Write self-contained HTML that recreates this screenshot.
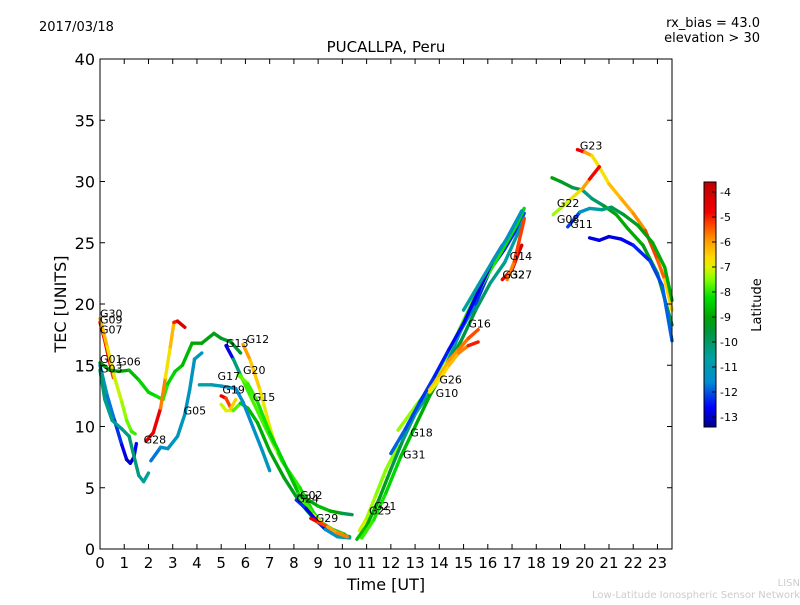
<!DOCTYPE html>
<html><head><meta charset="utf-8"><style>
body{margin:0;background:#fff;}
svg text{font-family:"DejaVu Sans","Liberation Sans",sans-serif;}
</style></head><body>
<svg id="chart" width="800" height="600" viewBox="0 0 800 600" xmlns="http://www.w3.org/2000/svg">
<rect width="800" height="600" fill="#fff"/>
<text x="39" y="31" font-size="13">2017/03/18</text>
<text x="386" y="52" font-size="15" text-anchor="middle">PUCALLPA, Peru</text>
<text x="760" y="27" font-size="13" text-anchor="end">rx_bias = 43.0</text>
<text x="760" y="42" font-size="13" text-anchor="end">elevation &gt; 30</text>
<text x="0" y="0" font-size="16" text-anchor="middle" transform="translate(66,304) rotate(-90)">TEC [UNITS]</text>
<text x="386" y="590" font-size="16" text-anchor="middle">Time [UT]</text>
<text x="0" y="0" font-size="13" text-anchor="middle" transform="translate(761,305) rotate(-90)">Latitude</text>
<text x="800" y="586" font-size="10" fill="#ccc" text-anchor="end">LISN</text>
<text x="800" y="598" font-size="10" fill="#ccc" text-anchor="end">Low-Latitude Ionospheric Sensor Network</text>
<g id="marks"></g>
<g id="axes"></g>
<defs><linearGradient id="cbgrad" x1="0" y1="1" x2="0" y2="0"></linearGradient></defs>
</svg>
<script>
const xTicks=[0,1,2,3,4,5,6,7,8,9,10,11,12,13,14,15,16,17,18,19,20,21,22,23];
const yTicks=[0,5,10,15,20,25,30,35,40];
const cbTicks=[-4,-5,-6,-7,-8,-9,-10,-11,-12,-13];
const satNames=["G07","G30","G01","G03","G06","G28","G05","G13","G12","G20","G15","G17","G19","G02","G24","G29","G21","G25","G31","G18","G10","G26","G16","G14","G32","G27","G23","G22","G08","G11","G09"];
const satTimes=[
[0,0.2,0.4,0.55],
[0,0.3,0.6,0.9,1.1,1.3,1.45],
[0,0.3,0.6,0.9,1.1,1.25,1.4,1.5],
[0,0.2,0.5,0.9,1.2,1.35,1.6,1.8,2.0],
[0,0.4,0.8,1.2,1.6,2.0,2.3,2.6,2.8,3.1,3.4,3.8,4.2,4.7,5.0,5.4,5.8],
[1.9,2.2,2.5,2.7,2.9,3.05,3.2,3.5],
[2.1,2.5,2.8,3.2,3.5,3.7,3.9,4.2],
[5.2,5.5,5.8,6.2,6.8,7.5,8.25,8.8,9.1,9.6,10.1],
[5.9,6.2,6.6,7.0,7.3],
[5.7,6.1,6.5,7.0,7.6,8.2,8.8,9.4,10.0],
[5.0,5.2,5.5,5.8,6.1,6.5,7.0,7.6,8.25,8.9,9.5,10.3],
[4.1,4.6,5.0,5.6,5.9,6.3,6.7,7.0],
[5.0,5.2,5.4,5.6],
[8.2,8.6,9.0,9.5,10.0,10.4],
[8.1,8.5,8.9,9.3,9.8,10.3],
[8.7,9.0,9.4,9.8,10.2],
[10.7,11.0,11.4,11.8,12.3],
[10.6,11.0,11.5,12.0,12.5,13.0,13.6,14.2,14.9,15.5,16.1,16.7,17.3,17.5],
[10.8,11.3,11.8,12.4,13.0,13.6,14.2,14.9,15.5,16.1,16.7,17.2,17.5],
[12.3,13.0,13.6,14.2,14.8,15.4,16.0,16.6,17.2,17.5],
[12.0,12.6,13.2,13.8,14.4,15.0,15.6,16.2,16.6],
[13.6,14.0,14.4,14.8,15.2,15.6],
[13.6,14.0,14.4,14.8,15.2,15.6],
[15.0,15.6,16.2,16.8,17.4],
[16.6,17.0,17.4],
[16.8,17.1,17.5],
[19.7,20.0,20.3,20.6,21.0,21.5,22.0,22.5,23.0,23.3,23.6],
[18.65,19.0,19.5,19.9,20.3,20.8,21.3,21.8,22.4,23.0,23.6],
[18.7,19.1,19.5,19.9,20.2,20.6],
[19.3,19.8,20.2,20.7,21.1,21.6,22.2,22.8,23.3,23.6],
[20.2,20.6,21.0,21.5,22.0,22.7,23.2,23.6]
];
const satTec=[
[18.5,17,15.2,14],
[18.8,16.5,14,12,10.5,9.6,9.4],
[15,12.5,10.5,8.5,7.3,7,7.5,8.6],
[14.6,12.2,10.5,9.8,9.2,8,6,5.5,6.2],
[15.2,14.6,14.5,14.6,13.8,12.8,12.5,12.2,13.5,14.5,15,16.8,16.8,17.6,17.2,16.9,16],
[8.8,9.5,11.5,14,16.5,18.5,18.6,18.1],
[7.2,8.3,8.2,9.2,11,13,15.5,16],
[16.6,15.5,14.2,12.5,10,7.2,5,3,2.2,1.6,1.2],
[16.7,15.4,13,10,8],
[14.2,13.5,12,9.5,7,4.5,2.8,1.6,1.2],
[11.8,11.3,11.3,11.9,11.5,10.3,8,5.8,3.8,2.3,1.4,1],
[13.4,13.4,13.3,13.1,12,10,8,6.4],
[12.5,12.3,11.5,12.2],
[4.4,4,3.5,3.1,2.9,2.8],
[4,3.3,2.4,1.6,1,0.9],
[2.5,2.2,1.8,1.3,1],
[1.5,2.5,4.5,6.5,8.4],
[0.8,1.9,4,6.5,8.9,11,12.8,14.6,17.9,20,22.8,24.5,26.5,27.4],
[0.9,2.4,4.6,7.5,10,12.5,14.6,17,19.5,21.7,23.4,25.6,27],
[9.7,11.6,13.2,15.4,17.8,20.3,22.4,24.4,26.5,27.8],
[7.8,9.8,12,14.1,16.3,18.4,21,23.5,24.8],
[13,14.1,15.4,16.3,17.2,17.9],
[12.8,13.8,15,16,16.6,16.9],
[19.5,21.5,23.5,25.4,27.6],
[22,22.8,24.8],
[22,23.5,26.9],
[32.6,32.4,32.1,31.2,29.8,28.6,27.4,26,23.6,22,19.5],
[30.3,30,29.5,29.3,28.6,28,27.3,26.1,24.8,22.5,18.3],
[27.3,28,28.7,29.4,30.2,31.2],
[26.3,27.5,27.8,27.7,27.9,27.3,26.4,25,23,20.3],
[25.4,25.2,25.5,25.3,24.8,23.5,21.5,17]
];
const satLat=[
[-4.5,-4.8,-5,-5.2],
[-6,-6.5,-7,-7.3,-7.5,-7.8,-8],
[-11,-11.5,-12,-12.5,-13,-13,-12.8,-12.5],
[-10,-10.3,-10.5,-10.5,-10.2,-10,-10.3,-10.5,-10.6],
[-9,-9.2,-9.3,-8.8,-8.5,-8.2,-8.5,-7.8,-8.2,-8.5,-8.5,-9,-9,-9.2,-9.3,-9.5,-9.5],
[-4,-4.5,-5,-6.5,-7,-5.5,-4.5,-4],
[-12,-11.5,-11.3,-11,-11.2,-11.3,-11,-11.3],
[-13,-12.5,-8,-7.8,-7.8,-7.9,-8,-8.2,-8.2,-8.3,-8.5],
[-5.8,-6.2,-6.7,-7,-7.2],
[-7.5,-7.8,-8,-8.2,-8.5,-8.7,-7,-6.5,-6],
[-7.2,-7,-7,-8.5,-8.6,-8.8,-9,-9.2,-9.3,-9.4,-9.5,-9.5],
[-10.5,-10.8,-11,-11.5,-11.6,-11.5,-11.2,-11],
[-5,-4.5,-6,-7],
[-9.5,-9.3,-8.8,-8.5,-9.5,-10.2],
[-12,-12.5,-13,-12,-11,-10.5],
[-4.5,-5,-5.5,-6.5,-5],
[-7,-7.2,-7.5,-7.5,-7.4],
[-8.5,-8.8,-9,-9.5,-10,-10.5,-10.8,-11,-11.5,-12,-12.5,-12.5,-12.2,-12],
[-7.8,-8,-8.2,-8.5,-8.8,-9,-9.2,-9.5,-9.8,-10.2,-10.5,-10.8,-11],
[-7.3,-7.5,-7.6,-7.7,-7.8,-7.9,-8,-8.1,-8.2,-8.3],
[-11.8,-12,-12.2,-12.3,-12.5,-12.6,-12.8,-12.9,-13],
[-6.5,-6.3,-6,-5.8,-5.5,-5.2],
[-7,-6.8,-6.5,-6,-5.5,-4.5],
[-10.5,-10.8,-11,-11.2,-11.5],
[-5,-4.5,-4],
[-6,-5.5,-5],
[-4,-5.5,-6.5,-7,-6.6,-6,-6.2,-5.5,-5,-6,-7],
[-9,-9.2,-9.6,-10.2,-10.5,-9.5,-9,-8.8,-9,-9.5,-10],
[-7.5,-7.2,-7,-6.5,-5.5,-4.2],
[-12.8,-11.5,-11,-10.5,-10,-9.5,-9.2,-9,-8.8,-9],
[-12.5,-13,-12.8,-12.8,-12.5,-12.2,-12,-11.8]
];
const labelNames=["G30","G09","G07","G01","G03","G06","G28","G05","G13","G12","G20","G17","G19","G15","G02","G24","G29","G21","G25","G31","G18","G10","G26","G16","G14","G32","G27","G23","G22","G08","G11"];
const labelT=[0,0,0,0,0,0.75,1.8,3.45,5.2,6.05,5.9,4.85,5.05,6.3,8.25,8.1,8.9,11.3,11.1,12.5,12.8,13.85,14.0,15.2,16.9,16.6,16.9,19.8,18.85,18.85,19.4];
const labelV=[18.9,18.4,17.6,15.2,14.4,15,8.6,11,16.5,16.8,14.3,13.8,12.7,12.1,4.1,3.8,2.2,3.2,2.8,7.4,9.2,12.4,13.5,18.1,23.6,22.1,22.1,32.6,27.9,26.6,26.2];

const X0=100,X1=672,Y0=549,Y1=59,XMAX=23.6,YMAX=40;
const sx=t=>X0+(X1-X0)*t/XMAX;
const sy=v=>Y0-(Y0-Y1)*v/YMAX;
const LMIN=-13.4,LMAX=-3.6;
const cmapL=[-13.4,-12.6,-11.6,-10.6,-9.6,-9.0,-8.2,-7.5,-7.0,-6.6,-6.0,-5.3,-4.8,-3.6];
const cmapC=[[0,0,140],[0,0,255],[0,140,210],[0,160,160],[0,150,60],[0,165,0],[0,225,0],[130,255,0],[225,240,0],[255,215,0],[255,160,0],[255,70,0],[240,0,0],[190,0,0]];
function cmap(l){l=Math.max(LMIN,Math.min(LMAX,l));
 for(let i=0;i<cmapL.length-1;i++){if(l<=cmapL[i+1]){const f=(l-cmapL[i])/(cmapL[i+1]-cmapL[i]);const a=cmapC[i],b=cmapC[i+1];
 return `rgb(${Math.round(a[0]+(b[0]-a[0])*f)},${Math.round(a[1]+(b[1]-a[1])*f)},${Math.round(a[2]+(b[2]-a[2])*f)})`;}}
 return 'rgb(190,0,0)';}
const NS="http://www.w3.org/2000/svg";
const grad=document.getElementById('cbgrad');
cmapL.forEach((l,i)=>{const s=document.createElementNS(NS,'stop');s.setAttribute('offset',(l-LMIN)/(LMAX-LMIN));s.setAttribute('stop-color',`rgb(${cmapC[i].join(',')})`);grad.appendChild(s);});
const marks=document.getElementById('marks');
satTimes.forEach((ts,i)=>{
 const g=document.createElementNS(NS,'g');
 
 
 for(let k=0;k<ts.length-1;k++){
  const ln=document.createElementNS(NS,'line');
  
  
  ln.setAttribute('x1',sx(ts[k]));ln.setAttribute('y1',sy(satTec[i][k]));
  ln.setAttribute('x2',sx(ts[k+1]));ln.setAttribute('y2',sy(satTec[i][k+1]));
  ln.setAttribute('stroke',cmap((satLat[i][k]+satLat[i][k+1])/2));
  ln.setAttribute('stroke-width','3.4');ln.setAttribute('stroke-linecap','round');
  g.appendChild(ln);
 }
 marks.appendChild(g);
});
labelNames.forEach((n,i)=>{
 const t=document.createElementNS(NS,'text');
 
 
 t.setAttribute('x',sx(labelT[i]));t.setAttribute('y',sy(labelV[i]));
 t.setAttribute('font-size','11');t.textContent=n;marks.appendChild(t);
});
const axes=document.getElementById('axes');
let h=`<rect x="${X0}" y="${Y1}" width="${X1-X0}" height="${Y0-Y1}" fill="none" stroke="#000" stroke-width="1"/>`;
xTicks.forEach(t=>{const x=sx(t);h+=`<line x1="${x}" y1="${Y0}" x2="${x}" y2="${Y0-5}" stroke="#000"/><line x1="${x}" y1="${Y1}" x2="${x}" y2="${Y1+5}" stroke="#000"/><text x="${x}" y="${Y0+19}" font-size="15" text-anchor="middle">${t}</text>`;});
yTicks.forEach(v=>{const y=sy(v);h+=`<line x1="${X0}" y1="${y}" x2="${X0+5}" y2="${y}" stroke="#000"/><line x1="${X1}" y1="${y}" x2="${X1-5}" y2="${y}" stroke="#000"/><text x="${X0-5}" y="${y+6}" font-size="16" text-anchor="end">${v}</text>`;});
const CB0=427,CB1=182,cy=l=>CB0-(CB0-CB1)*(l-LMIN)/(LMAX-LMIN);
h+=`<rect x="704" y="${CB1}" width="12" height="${CB0-CB1}" fill="url(#cbgrad)" stroke="#000"/>`;
cbTicks.forEach(l=>{const y=cy(l);h+=`<line x1="712" y1="${y}" x2="716" y2="${y}" stroke="#000"/><text x="720" y="${y+4}" font-size="11">${l}</text>`;});
axes.innerHTML=h;
</script>
</body></html>
